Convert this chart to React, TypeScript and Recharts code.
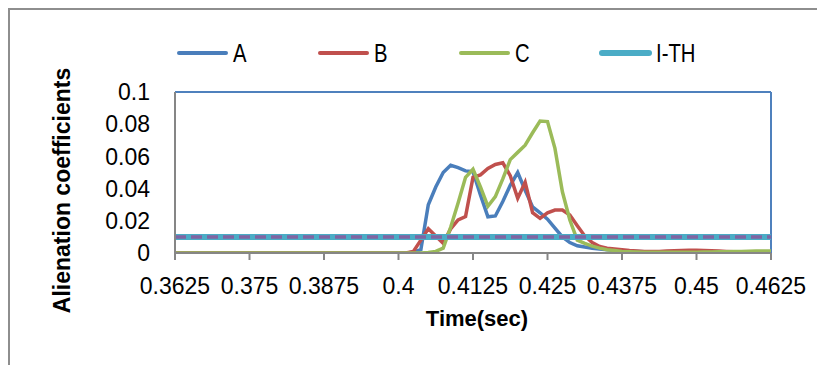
import { LineChart, Line, XAxis, YAxis, ReferenceLine, Legend, Label } from "recharts";

const times = [
  0.3625, 0.36375, 0.365, 0.36625, 0.3675, 0.36875, 0.37, 0.37125, 0.3725, 0.37375,
  0.375, 0.37625, 0.3775, 0.37875, 0.38, 0.38125, 0.3825, 0.38375, 0.385, 0.38625,
  0.3875, 0.38875, 0.39, 0.39125, 0.3925, 0.39375, 0.395, 0.39625, 0.3975, 0.39875,
  0.4, 0.40125, 0.4025, 0.40375, 0.405, 0.40625, 0.4075, 0.40875, 0.41, 0.41125,
  0.4125, 0.41375, 0.415, 0.41625, 0.4175, 0.41875, 0.42, 0.42125, 0.4225, 0.42375,
  0.425, 0.42625, 0.4275, 0.42875, 0.43, 0.43125, 0.4325, 0.43375, 0.435, 0.43625,
  0.4375, 0.43875, 0.44, 0.44125, 0.4425, 0.44375, 0.445, 0.44625, 0.4475, 0.44875,
  0.45, 0.45125, 0.4525, 0.45375, 0.455, 0.45625, 0.4575, 0.45875, 0.46, 0.46125,
  0.4625,
];

const seriesA = [
  0, 0, 0, 0, 0, 0, 0, 0, 0, 0,
  0, 0, 0, 0, 0, 0, 0, 0, 0, 0,
  0, 0, 0, 0, 0, 0, 0, 0, 0, 0,
  0, 0, 0.0005, 0.002, 0.03, 0.041, 0.05, 0.0545, 0.053, 0.051,
  0.0505, 0.036, 0.0225, 0.023, 0.032, 0.042, 0.05, 0.039, 0.0286, 0.025,
  0.021, 0.0155, 0.01, 0.0065, 0.0045, 0.0037, 0.003, 0.0025, 0.002, 0.0015,
  0.0012, 0.001, 0.0009, 0.0008, 0.0008, 0.0007, 0.0007, 0.0006, 0.0006, 0.0006,
  0.0006, 0.0005, 0.0005, 0.0005, 0.0005, 0.0004, 0.0004, 0.0004, 0.0004, 0.0004,
  0.0004,
];

const seriesB = [
  0, 0, 0, 0, 0, 0, 0, 0, 0, 0,
  0, 0, 0, 0, 0, 0, 0, 0, 0, 0,
  0, 0, 0, 0, 0, 0, 0, 0, 0, 0,
  0, 0, 0.001, 0.008, 0.015, 0.0105, 0.006, 0.015, 0.0205, 0.0226,
  0.047, 0.0485, 0.0525, 0.055, 0.056, 0.048, 0.034, 0.044, 0.025, 0.0215,
  0.025, 0.0267, 0.0267, 0.0236, 0.017, 0.0106, 0.0065, 0.004, 0.003, 0.0025,
  0.002, 0.0015, 0.0012, 0.001, 0.001, 0.001, 0.0012, 0.0014, 0.0016, 0.0017,
  0.0017, 0.0016, 0.0014, 0.0012, 0.001, 0.0008, 0.0007, 0.0006, 0.0006, 0.0005,
  0.0005,
];

const seriesC = [
  0, 0, 0, 0, 0, 0, 0, 0, 0, 0,
  0, 0, 0, 0, 0, 0, 0, 0, 0, 0,
  0, 0, 0, 0, 0, 0, 0, 0, 0, 0,
  0, 0, 0, 0, 0.0003, 0.001, 0.003, 0.016, 0.031, 0.047,
  0.052, 0.041, 0.029, 0.035, 0.046, 0.058, 0.0625, 0.067, 0.0747, 0.082,
  0.0816, 0.065, 0.038, 0.0205, 0.008, 0.006, 0.0043, 0.003, 0.002, 0.0015,
  0.001, 0.0008, 0.0006, 0.0005, 0.0005, 0.0004, 0.0004, 0.0004, 0.0004, 0.0005,
  0.0005, 0.0006, 0.0006, 0.0007, 0.0008, 0.0009, 0.001, 0.0011, 0.0012, 0.0013,
  0.0013,
];

const threshold = 0.01;
const xTicks = [0.3625, 0.375, 0.3875, 0.4, 0.4125, 0.425, 0.4375, 0.45, 0.4625];
const yTicks = [0, 0.02, 0.04, 0.06, 0.08, 0.1];

const colors = {
  A: "#4A7EBB",
  B: "#C0504D",
  C: "#9BBB59",
  ith: "#4BACC6",
  ithDash: "#8064A2",
  frame: "#4F81BD",
  axis: "#868686",
};

const legendItems = [
  { name: "A", color: colors.A, width: 4 },
  { name: "B", color: colors.B, width: 4 },
  { name: "C", color: colors.C, width: 4 },
  { name: "I-TH", color: colors.ith, width: 6 },
];

const font = "'Liberation Sans', Arial, sans-serif";

const data = times.map((t, i) => ({ t, A: seriesA[i], B: seriesB[i], C: seriesC[i] }));

function renderLegend() {
  return (
    <svg width={620} height={34}>
      {legendItems.map((item, i) => (
        <g key={item.name} transform={`translate(${i * 141},0)`}>
          <line x1={9} x2={56} y1={15} y2={15} stroke={item.color} strokeWidth={item.width} strokeLinecap="round" />
          <text
            transform="translate(63,24) scale(0.78,1)"
            fontSize={26}
            fontFamily={font}
            fill="#000"
          >
            {item.name}
          </text>
        </g>
      ))}
    </svg>
  );
}

function YTitle(props: any) {
  const { x, y, height } = props.viewBox;
  const cx = x - 53;
  const cy = y + height / 2 + 18;
  return (
    <text
      x={cx}
      y={cy}
      transform={`rotate(-90,${cx},${cy})`}
      textAnchor="middle"
      dominantBaseline="central"
      fontSize={23}
      fontWeight="bold"
      fontFamily={font}
      fill="#000"
    >
      Alienation coefficients
    </text>
  );
}

function XTitle(props: any) {
  const { x, y, width } = props.viewBox;
  return (
    <text
      x={x + width / 2 + 4}
      y={y + 73}
      textAnchor="middle"
      fontSize={22}
      fontWeight="bold"
      fontFamily={font}
      fill="#000"
    >
      Time(sec)
    </text>
  );
}

export default function App() {
  return (
    <div
      style={{
        width: 815,
        height: 355,
        borderLeft: "2px solid #8e8e8e",
        borderTop: "2px solid #8e8e8e",
        position: "relative",
        background: "#fff",
      }}
    >
      <LineChart width={815} height={355} data={data} margin={{ top: 82, right: 54, left: 105, bottom: 52 }}>
        <XAxis
          type="number"
          dataKey="t"
          domain={[0.3625, 0.4625]}
          ticks={xTicks}
          interval={0}
          height={60}
          tickSize={7}
          tickMargin={18}
          axisLine={{ stroke: colors.axis, strokeWidth: 2 }}
          tickLine={{ stroke: colors.axis, strokeWidth: 2 }}
          tick={{ fill: "#000", fontSize: 23, fontFamily: font }}
          allowDataOverflow
        >
          <Label content={XTitle} />
        </XAxis>
        <YAxis
          type="number"
          domain={[0, 0.1]}
          ticks={yTicks}
          interval={0}
          width={60}
          tickSize={0}
          tickMargin={25}
          tickLine={false}
          axisLine={{ stroke: colors.axis, strokeWidth: 2 }}
          tick={{ fill: "#000", fontSize: 23, fontFamily: font }}
          allowDataOverflow
        >
          <Label content={YTitle} />
        </YAxis>
        <ReferenceLine y={0.1} stroke={colors.frame} strokeWidth={2} />
        <ReferenceLine x={0.4625} stroke={colors.frame} strokeWidth={2} />
        <Legend
          layout="horizontal"
          verticalAlign="middle"
          align="center"
          wrapperStyle={{ top: 28, left: 160, width: 620, height: 34 }}
          content={renderLegend}
        />
        <Line type="linear" dataKey="A" stroke={colors.A} strokeWidth={3.5} dot={false} isAnimationActive={false} />
        <Line type="linear" dataKey="B" stroke={colors.B} strokeWidth={3.5} dot={false} isAnimationActive={false} />
        <Line type="linear" dataKey="C" stroke={colors.C} strokeWidth={3.5} dot={false} isAnimationActive={false} />
        <ReferenceLine y={threshold} stroke={colors.ith} strokeWidth={6} />
        <ReferenceLine y={threshold} stroke={colors.ithDash} strokeWidth={3.5} strokeDasharray="11 5" />
      </LineChart>
    </div>
  );
}
